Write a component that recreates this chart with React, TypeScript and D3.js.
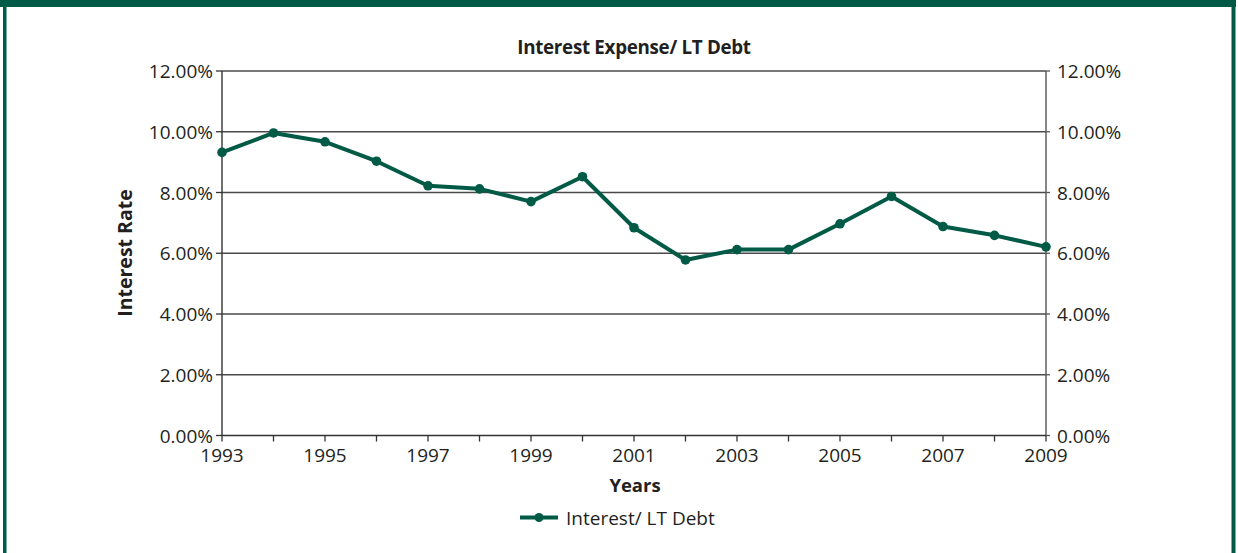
import * as d3 from 'd3';

const years = [1993, 1994, 1995, 1996, 1997, 1998, 1999, 2000, 2001, 2002, 2003, 2004, 2005, 2006, 2007, 2008, 2009];
const rates = [9.32, 9.96, 9.67, 9.03, 8.22, 8.12, 7.7, 8.52, 6.84, 5.78, 6.12, 6.12, 6.97, 7.87, 6.88, 6.59, 6.21];
const yTicks = [0, 2, 4, 6, 8, 10, 12];
const xLabels = [1993, 1995, 1997, 1999, 2001, 2003, 2005, 2007, 2009];

const W = 1238;
const H = 553;
const green = '#005a46';
const ink = '#231f20';
const font = "'Open Sans', 'Noto Sans', sans-serif";

export default function App() {
  const margin = { left: 222, right: 1046, top: 71, bottom: 435.5 };

  const x = d3.scaleLinear().domain([1993, 2009]).range([margin.left, margin.right]);
  const y = d3.scaleLinear().domain([0, 12]).range([margin.bottom, margin.top]);

  const line = d3.line<number>()
    .x((_, i) => x(years[i]))
    .y(d => y(d));

  const pct = (v: number) => v.toFixed(2) + '%';

  return (
    <div style={{ position: 'absolute', left: 0, top: 0 }}>
      <svg width={W} height={H} style={{ display: 'block', fontFamily: font }}>
        <rect x={0} y={0} width={W} height={H} fill="#fff" />
        {/* frame */}
        <rect x={0} y={0} width={1236} height={7} fill={green} />
        <rect x={3} y={0} width={3.5} height={H} fill={green} />
        <rect x={1231.5} y={0} width={4} height={H} fill={green} />

        <text x={634} y={54} textAnchor="middle" fontSize={18.8} fontWeight={700} fill={ink} letterSpacing={-0.3}>
          Interest Expense/ LT Debt
        </text>

        {/* gridlines */}
        {yTicks.filter(t => t > 0).map(t => (
          <line key={'g' + t} x1={margin.left} x2={margin.right} y1={y(t)} y2={y(t)} stroke="#4a4a4a" strokeWidth={1.4} />
        ))}

        {/* axes */}
        <line x1={margin.left} x2={margin.left} y1={margin.top} y2={margin.bottom} stroke="#333" strokeWidth={1.4} />
        <line x1={margin.right} x2={margin.right} y1={margin.top} y2={margin.bottom} stroke="#555" strokeWidth={1.4} />
        <line x1={margin.left} x2={margin.right} y1={margin.bottom} y2={margin.bottom} stroke="#333" strokeWidth={1.4} />

        {yTicks.map(t => (
          <g key={'yt' + t}>
            <line x1={margin.left - 6} x2={margin.left} y1={y(t)} y2={y(t)} stroke="#333" strokeWidth={1.3} />
            <line x1={margin.right} x2={margin.right + 4} y1={y(t)} y2={y(t)} stroke="#555" strokeWidth={1.3} />
            <text x={margin.left - 9} y={y(t) + 7} textAnchor="end" fontSize={19} fill={ink}>{pct(t)}</text>
            <text x={margin.right + 11} y={y(t) + 7} textAnchor="start" fontSize={19} fill={ink}>{pct(t)}</text>
          </g>
        ))}

        {years.map(yr => (
          <line key={'xt' + yr} x1={x(yr)} x2={x(yr)} y1={margin.bottom} y2={margin.bottom + 6} stroke="#333" strokeWidth={1.3} />
        ))}
        {xLabels.map(yr => (
          <text key={'xl' + yr} x={x(yr)} y={462} textAnchor="middle" fontSize={19} fill={ink}>{yr}</text>
        ))}

        <text x={635} y={492} textAnchor="middle" fontSize={18.5} fontWeight={700} fill={ink}>Years</text>
        <text transform={`translate(132,253) rotate(-90)`} textAnchor="middle" fontSize={19.5} fontWeight={700} fill={ink}>
          Interest Rate
        </text>

        {/* series */}
        <path d={line(rates) || ''} fill="none" stroke={green} strokeWidth={4} strokeLinejoin="round" />
        {rates.map((r, i) => (
          <circle key={'p' + i} cx={x(years[i])} cy={y(r)} r={4.8} fill={green} />
        ))}

        {/* legend */}
        <line x1={520} x2={558} y1={517.5} y2={517.5} stroke={green} strokeWidth={4} />
        <circle cx={539} cy={517.5} r={4.5} fill={green} />
        <text x={566} y={525} fontSize={19} fill={ink}>Interest/ LT Debt</text>
      </svg>
    </div>
  );
}
